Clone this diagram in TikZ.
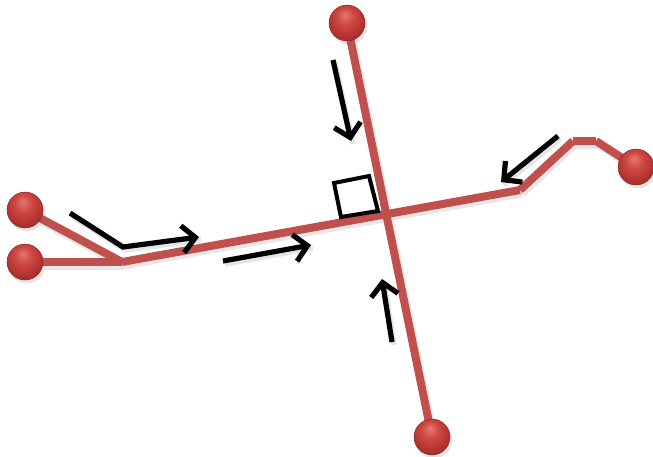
\documentclass[tikz,border=0pt]{standalone}
\usetikzlibrary{arrows.meta}
\definecolor{rline}{RGB}{192,80,77}
\definecolor{rbA}{RGB}{228,120,115}
\definecolor{rbB}{RGB}{206,72,68}
\definecolor{rbC}{RGB}{165,42,40}
\pgfdeclareradialshading{redball}{\pgfpoint{-3bp}{12bp}}{color(0bp)=(rbA); color(12bp)=(rbB); color(30bp)=(rbC); color(50bp)=(rbC)}
\tikzset{
  redseg/.style={draw=rline, line width=8pt, line cap=butt},
  segshadow/.style={draw=black!9, line width=9pt, line cap=butt, transform canvas={shift={(2pt,-3pt)}}},
  blackarrow/.style={draw=black, line width=5.2pt, line join=miter, -{Straight Barb[length=13pt,width=27pt]}},
  arrowshadow/.style={draw=black!10, line width=5.5pt, line join=miter, transform canvas={shift={(2pt,-3pt)}}},
  redball/.style={circle, minimum size=36pt, inner sep=0pt, shading=redball, draw=rbC!80!black, line width=0.4pt},
  ballshadow/.style={circle, minimum size=37pt, inner sep=0pt, fill=black!10},
  anglebox/.style={draw=black, line width=4pt, line join=miter}
}
\begin{document}
\begin{tikzpicture}[x=1pt,y=-1pt]
\useasboundingbox (0,0) rectangle (653,456);
% key points
\coordinate (kL) at (122,262);
\coordinate (kR) at (520,190);
\coordinate (kR2) at (573,141);
\coordinate (kR3) at (596,141);
\coordinate (bTop) at (347,23);
\coordinate (bBot) at (432,437);
\coordinate (bL1) at (25,210);
\coordinate (bL2) at (25,262);
\coordinate (bR) at (636,167);
% arrow end points
\coordinate (a1s) at (333,60);   \coordinate (a1e) at (351,141);
\coordinate (a2s) at (558,136);  \coordinate (a2e) at (501,182);
\coordinate (a3s) at (392,342);  \coordinate (a3e) at (382,279);
\coordinate (a4s) at (70,213);   \coordinate (a4m) at (123,247); \coordinate (a4e) at (199,237);
\coordinate (a5s) at (223,261);  \coordinate (a5e) at (311,245);
% shadows
\foreach \p/\q in {bTop/bBot, bL1/kL, bL2/kL, kL/kR, kR/kR2, kR2/kR3, kR3/bR}
  \path[segshadow] (\p) -- (\q);
\path[arrowshadow] (a1s) -- (a1e);
\path[arrowshadow] (a2s) -- (a2e);
\path[arrowshadow] (a3s) -- (a3e);
\path[arrowshadow] (a4s) -- (a4m) -- (a4e);
\path[arrowshadow] (a5s) -- (a5e);
\foreach \b in {bTop,bBot,bL1,bL2,bR}
  \node[ballshadow] at ([shift={(2pt,-3pt)}]\b) {};
% red lines
\path[redseg] (bTop) -- (bBot);
\path[redseg] (bL1) -- (kL);
\path[redseg] (bL2) -- (kL);
\path[redseg] (kL) -- (kR);
\path[redseg] (kR) -- (kR2);
\path[redseg] (kR2) -- (kR3);
\path[redseg] (kR3) -- (bR);
% balls
\node[redball] (ballTop) at (bTop) {};
\node[redball] (ballBot) at (bBot) {};
\node[redball] (ballL1) at (bL1) {};
\node[redball] (ballL2) at (bL2) {};
\node[redball] (ballR) at (bR) {};
% right-angle box
\path[anglebox] (334,183) -- (369,176) -- (378,211) -- (341,217) -- cycle;
% arrows
\path[blackarrow] (a1s) -- (a1e);
\path[blackarrow] (a2s) -- (a2e);
\path[blackarrow] (a3s) -- (a3e);
\path[blackarrow] (a4s) -- (a4m) -- (a4e);
\path[blackarrow] (a5s) -- (a5e);
\end{tikzpicture}
\end{document}
